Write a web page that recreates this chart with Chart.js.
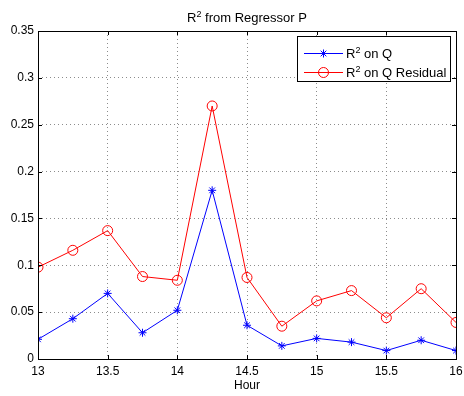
<!DOCTYPE html>
<html>
<head>
<meta charset="utf-8">
<script src="https://cdn.jsdelivr.net/npm/chart.js@4.4.1/dist/chart.umd.min.js"></script>
<style>
html,body{margin:0;padding:0;background:#fff;}
#wrap{width:464px;height:396px;}
</style>
</head>
<body>
<div id="wrap"><canvas id="c" width="464" height="396"></canvas></div>
<script>
const hours = [13, 13.25, 13.5, 13.75, 14, 14.25, 14.5, 14.75, 15, 15.25, 15.5, 15.75, 16];
const r2OnQ = [0.021, 0.043, 0.070, 0.028, 0.052, 0.180, 0.036, 0.014, 0.022, 0.018, 0.009, 0.020, 0.009];
const r2OnQResidual = [0.098, 0.116, 0.137, 0.088, 0.084, 0.270, 0.087, 0.035, 0.062, 0.073, 0.044, 0.075, 0.039];
const xTicks = [13, 13.5, 14, 14.5, 15, 15.5, 16];
const yTicks = [0, 0.05, 0.1, 0.15, 0.2, 0.25, 0.3, 0.35];
// text pieces: [base, superscript, rest]
const seriesNames = [['R', '2', ' on Q'], ['R', '2', ' on Q Residual']];
const titleText = ['R', '2', ' from Regressor P'];
const xTitle = 'Hour';

const FONT = '"Liberation Sans", Arial, Helvetica, sans-serif';

function fmtY(v){
  if (Math.abs(v) < 1e-9) return '0';
  return String(parseFloat(v.toFixed(2)));
}

function supText(ctx, parts, x, y, size, align){
  const big = size + 'px ' + FONT, small = Math.round(size*0.72) + 'px ' + FONT;
  ctx.font = big; const w0 = ctx.measureText(parts[0]).width;
  ctx.font = small; const w1 = ctx.measureText(parts[1]).width;
  ctx.font = big; const w2 = ctx.measureText(parts[2]).width;
  const total = w0 + w1 + w2;
  let sx = align === 'center' ? x - total/2 : x;
  ctx.textAlign = 'left';
  ctx.textBaseline = 'alphabetic';
  ctx.font = big; ctx.fillText(parts[0], sx, y);
  ctx.font = small; ctx.fillText(parts[1], sx + w0, y - size*0.42);
  ctx.font = big; ctx.fillText(parts[2], sx + w0 + w1, y);
}

const frame = {
  id: 'frame',
  afterDraw(chart){
    const {ctx, chartArea:a, scales} = chart;
    ctx.save();
    ctx.strokeStyle = '#000';
    ctx.lineWidth = 1;
    ctx.strokeRect(Math.round(a.left)+0.5, Math.round(a.top)+0.5, Math.round(a.right-a.left), Math.round(a.bottom-a.top));
    // inward ticks
    const tl = 4;
    ctx.beginPath();
    xTicks.forEach(v=>{
      const x = Math.round(scales.x.getPixelForValue(v))+0.5;
      ctx.moveTo(x, a.bottom); ctx.lineTo(x, a.bottom-tl);
      ctx.moveTo(x, a.top); ctx.lineTo(x, a.top+tl);
    });
    yTicks.forEach(v=>{
      const y = Math.round(scales.y.getPixelForValue(v))+0.5;
      ctx.moveTo(a.left, y); ctx.lineTo(a.left+tl, y);
      ctx.moveTo(a.right, y); ctx.lineTo(a.right-tl, y);
    });
    ctx.stroke();

    // title
    ctx.fillStyle = '#000';
    supText(ctx, titleText, (a.left + a.right)/2, 22, 13, 'center');

    // legend box
    const bx = 297.5, by = 36.5, bw = 153, bh = 45;
    ctx.fillStyle = '#fff';
    ctx.fillRect(bx, by, bw, bh);
    ctx.strokeStyle = '#000';
    ctx.strokeRect(bx, by, bw, bh);
    const rows = [
      {y: 53, color:'#0000ff', style:'star', r:4},
      {y: 72, color:'#ff0000', style:'circle', r:5}
    ];
    rows.forEach((row,i)=>{
      ctx.strokeStyle = row.color;
      ctx.fillStyle = 'rgba(0,0,0,0)';
      ctx.lineWidth = 1;
      ctx.beginPath();
      ctx.moveTo(304, row.y+0.5); ctx.lineTo(343, row.y+0.5);
      ctx.stroke();
      Chart.helpers.drawPoint(ctx, {pointStyle: row.style, radius: row.r, borderWidth: 1}, 323.5, row.y+0.5);
      ctx.fillStyle = '#000';
      supText(ctx, seriesNames[i], 346, row.y + 5, 13, 'left');
    });
    ctx.restore();
  }
};

const ctx = document.getElementById('c').getContext('2d');
new Chart(ctx, {
  type: 'line',
  data: {
    datasets: [
      {
        label: 'R\u00B2 on Q',
        data: hours.map((h,i)=>({x:h, y:r2OnQ[i]})),
        borderColor: '#0000ff',
        backgroundColor: '#0000ff',
        borderWidth: 1,
        pointStyle: 'star',
        pointRadius: 4,
        pointBorderWidth: 1,
        pointBorderColor: '#0000ff',
        tension: 0,
        fill: false
      },
      {
        label: 'R\u00B2 on Q Residual',
        data: hours.map((h,i)=>({x:h, y:r2OnQResidual[i]})),
        borderColor: '#ff0000',
        backgroundColor: 'rgba(0,0,0,0)',
        borderWidth: 1,
        pointStyle: 'circle',
        pointRadius: 5,
        pointBorderWidth: 1,
        pointBorderColor: '#ff0000',
        pointBackgroundColor: 'rgba(0,0,0,0)',
        tension: 0,
        fill: false
      }
    ]
  },
  options: {
    responsive: false,
    animation: false,
    devicePixelRatio: 1,
    layout: { padding: { left: 0, right: 8, top: 31, bottom: 0 } },
    plugins: {
      legend: { display: false },
      tooltip: { enabled: false },
      title: { display: false }
    },
    scales: {
      x: {
        type: 'linear',
        min: 13, max: 16,
        afterBuildTicks(s){ s.ticks = xTicks.map(v=>({value:v})); },
        afterFit(s){ s.height = 37; s.paddingLeft = 0; s.paddingRight = 0; },
        grid: { color: '#8c8c8c', borderDash: [1,3], drawTicks: false, lineWidth: 1 },
        border: { display: false, dash: [1,3] },
        ticks: { color: '#000', font: { family: FONT, size: 12 }, padding: 5, maxRotation: 0, autoSkip: false,
          callback: v => String(v) },
        title: { display: true, text: xTitle, color: '#000', font: { family: FONT, size: 12 }, padding: { top: 0, bottom: 3 } }
      },
      y: {
        type: 'linear',
        min: 0, max: 0.35,
        afterBuildTicks(s){ s.ticks = yTicks.map(v=>({value:v})); },
        afterFit(s){ s.width = 38; s.paddingTop = 0; s.paddingBottom = 0; },
        grid: { color: '#8c8c8c', borderDash: [1,3], drawTicks: false, lineWidth: 1 },
        border: { display: false, dash: [1,3] },
        ticks: { color: '#000', font: { family: FONT, size: 12 }, padding: 4, autoSkip: false,
          callback: v => fmtY(v) }
      }
    }
  },
  plugins: [frame]
});
</script>
</body>
</html>
